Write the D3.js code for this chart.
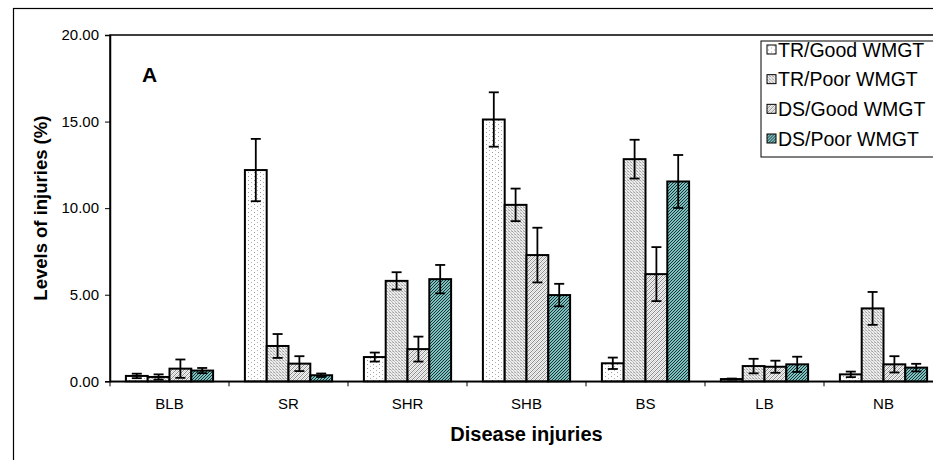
<!DOCTYPE html>
<html>
<head>
<meta charset="utf-8">
<script src="https://cdn.jsdelivr.net/npm/d3@7"></script>
<style>
  html, body { margin: 0; padding: 0; background: #fff; }
  svg { display: block; font-family: "Liberation Sans", Arial, sans-serif; }
</style>
</head>
<body>
<svg id="chart" width="933" height="460"></svg>
<script>
// Disease injury levels (%) by category, four treatment / water-management groups
const categories = ["BLB", "SR", "SHR", "SHB", "BS", "LB", "NB"];
const seriesNames = ["TR/Good WMGT", "TR/Poor WMGT", "DS/Good WMGT", "DS/Poor WMGT"];

const trGood    = [0.31, 12.20, 1.40, 15.12, 1.04, 0.13, 0.40];
const trGoodErr = [0.13, 1.80, 0.26, 1.57, 0.33, 0.03, 0.16];
const trPoor    = [0.25, 2.04, 5.80, 10.19, 12.83, 0.88, 4.21];
const trPoorErr = [0.15, 0.69, 0.50, 0.94, 1.12, 0.42, 0.95];
const dsGood    = [0.73, 1.02, 1.86, 7.29, 6.19, 0.84, 0.98];
const dsGoodErr = [0.53, 0.43, 0.72, 1.58, 1.56, 0.35, 0.47];
const dsPoor    = [0.62, 0.35, 5.90, 4.98, 11.54, 0.98, 0.79];
const dsPoorErr = [0.15, 0.10, 0.82, 0.65, 1.53, 0.44, 0.22];

const yTicks = [0, 5, 10, 15, 20];
const yTickLabels = ["0.00", "5.00", "10.00", "15.00", "20.00"];

const seriesValues = [trGood, trPoor, dsGood, dsPoor];
const seriesErrors = [trGoodErr, trPoorErr, dsGoodErr, dsPoorErr];
const fills = ["url(#pTRgood)", "url(#pTRpoor)", "url(#pDSgood)", "url(#pDSpoor)"];

const svg = d3.select("#chart");

// ---- fill patterns -------------------------------------------------------
const defs = svg.append("defs");

function pixelPattern(id, w, h, bg, pixels) {
  const p = defs.append("pattern")
    .attr("id", id).attr("patternUnits", "userSpaceOnUse")
    .attr("width", w).attr("height", h);
  p.append("rect").attr("width", w).attr("height", h).attr("fill", bg);
  pixels.forEach(([x, y, c]) => {
    p.append("rect").attr("x", x).attr("y", y).attr("width", 1).attr("height", 1)
      .attr("fill", c).attr("shape-rendering", "crispEdges");
  });
}

// sparse grey dots
pixelPattern("pTRgood", 6, 4, "#ffffff", [[1, 0, "#9a9a9a"], [4, 2, "#b0b0b0"]]);
// dense stipple
pixelPattern("pTRpoor", 3, 3, "#eeeeee", [[0, 0, "#a0a0a0"], [1, 1, "#c0c0c0"], [2, 0, "#cacaca"], [2, 2, "#b4b4b4"]]);
// grey diagonal hatch
pixelPattern("pDSgood", 4, 4, "#f4f4f4", [
  [3, 0, "#8a8a8a"], [2, 1, "#8a8a8a"], [1, 2, "#8a8a8a"], [0, 3, "#8a8a8a"],
  [1, 0, "#cfcfcf"], [0, 1, "#cfcfcf"], [3, 2, "#cfcfcf"], [2, 3, "#cfcfcf"]
]);
// teal with dark diagonal hatch
pixelPattern("pDSpoor", 3, 3, "#7cc0c0", [
  [2, 0, "#1f3535"], [1, 1, "#1f3535"], [0, 2, "#1f3535"]
]);

// ---- layout --------------------------------------------------------------
const plot = { left: 110, top: 35, right: 943, bottom: 381.3 };

// outer frame
svg.append("rect")
  .attr("x", 13.5).attr("y", 8.5).attr("width", 1000).attr("height", 500)
  .attr("fill", "#fff").attr("stroke", "#000").attr("stroke-width", 1.2);

const x = d3.scaleBand().domain(categories).range([plot.left, plot.right]).padding(0);
const xInner = d3.scaleBand().domain(seriesNames)
  .range([x.bandwidth() * 0.1336, x.bandwidth() * 0.8664]).padding(0);
const y = d3.scaleLinear().domain([0, 20]).range([plot.bottom, plot.top]);

// plot area frame
svg.append("rect")
  .attr("x", plot.left).attr("y", plot.top)
  .attr("width", plot.right - plot.left).attr("height", plot.bottom - plot.top)
  .attr("fill", "none").attr("stroke", "#000").attr("stroke-width", 1.5);

// ---- bars ----------------------------------------------------------------
const groups = svg.append("g").selectAll("g")
  .data(categories)
  .join("g")
  .attr("transform", d => `translate(${x(d)},0)`);

const rows = categories.map((c, ci) => seriesNames.map((s, si) => ({
  cat: c, series: s, si, value: seriesValues[si][ci], err: seriesErrors[si][ci]
})));

groups.selectAll("rect")
  .data((d, i) => rows[i])
  .join("rect")
  .attr("x", d => xInner(d.series))
  .attr("y", d => y(d.value))
  .attr("width", xInner.bandwidth())
  .attr("height", d => y(0) - y(d.value))
  .attr("fill", d => fills[d.si])
  .attr("stroke", "#000")
  .attr("stroke-width", 2);

// error bars
const capHalf = 5;
const eb = groups.selectAll("g.err")
  .data((d, i) => rows[i])
  .join("g").attr("class", "err")
  .attr("stroke", "#000").attr("stroke-width", 1.8);
eb.append("line")
  .attr("x1", d => xInner(d.series) + xInner.bandwidth() / 2)
  .attr("x2", d => xInner(d.series) + xInner.bandwidth() / 2)
  .attr("y1", d => y(d.value + d.err))
  .attr("y2", d => y(Math.max(0, d.value - d.err)));
eb.append("line")
  .attr("x1", d => xInner(d.series) + xInner.bandwidth() / 2 - capHalf)
  .attr("x2", d => xInner(d.series) + xInner.bandwidth() / 2 + capHalf)
  .attr("y1", d => y(d.value + d.err))
  .attr("y2", d => y(d.value + d.err));
eb.append("line")
  .attr("x1", d => xInner(d.series) + xInner.bandwidth() / 2 - capHalf)
  .attr("x2", d => xInner(d.series) + xInner.bandwidth() / 2 + capHalf)
  .attr("y1", d => y(Math.max(0, d.value - d.err)))
  .attr("y2", d => y(Math.max(0, d.value - d.err)));

// ---- axes ----------------------------------------------------------------
const yAxis = d3.axisLeft(y)
  .tickValues(yTicks)
  .tickFormat((d, i) => yTickLabels[i])
  .tickSize(5).tickPadding(6);
const yg = svg.append("g").attr("transform", `translate(${plot.left},0)`).call(yAxis);
yg.select(".domain").attr("stroke-width", 1.5);
yg.selectAll(".tick line").attr("stroke-width", 1);
yg.selectAll(".tick text").attr("font-size", 15).attr("fill", "#000")
  .attr("font-family", "Liberation Sans, Arial, sans-serif");

// category labels centred in bands, ticks at band boundaries
const xAxis = d3.axisBottom(x).tickSize(0).tickPadding(17);
const xg = svg.append("g").attr("transform", `translate(0,${plot.bottom})`).call(xAxis);
xg.select(".domain").attr("stroke-width", 1.5);
xg.selectAll(".tick text").attr("font-size", 15).attr("fill", "#000")
  .attr("font-family", "Liberation Sans, Arial, sans-serif");
svg.append("g").selectAll("line")
  .data(categories)
  .join("line")
  .attr("x1", d => x(d)).attr("x2", d => x(d))
  .attr("y1", plot.bottom).attr("y2", plot.bottom + 5)
  .attr("stroke", "#000").attr("stroke-width", 1);

// axis titles
svg.append("text")
  .attr("x", (plot.left + plot.right) / 2).attr("y", 441)
  .attr("text-anchor", "middle")
  .attr("font-size", 20).attr("font-weight", "bold")
  .text("Disease injuries");

svg.append("text")
  .attr("transform", `translate(47,${(plot.top + plot.bottom) / 2}) rotate(-90)`)
  .attr("text-anchor", "middle")
  .attr("font-size", 18.5).attr("font-weight", "bold")
  .text("Levels of injuries (%)");

// panel letter
svg.append("text")
  .attr("x", 142).attr("y", 82)
  .attr("font-size", 21).attr("font-weight", "bold")
  .text("A");

// ---- legend --------------------------------------------------------------
const legend = svg.append("g");
legend.append("rect")
  .attr("x", 761).attr("y", 41).attr("width", 260).attr("height", 116)
  .attr("fill", "#fff").attr("stroke", "#000").attr("stroke-width", 1);
const legRow = d3.scalePoint().domain(seriesNames).range([49.5, 138.5]);
const li = legend.selectAll("g.item")
  .data(seriesNames)
  .join("g").attr("class", "item")
  .attr("transform", d => `translate(767,${legRow(d)})`);
li.append("rect")
  .attr("x", 0).attr("y", -4.5).attr("width", 9).attr("height", 9)
  .attr("fill", (d, i) => fills[i]).attr("stroke", "#000").attr("stroke-width", 1);
li.append("text")
  .attr("x", 11).attr("y", 0).attr("dy", "0.36em")
  .attr("font-size", 19.5)
  .text(d => d);
</script>
</body>
</html>
